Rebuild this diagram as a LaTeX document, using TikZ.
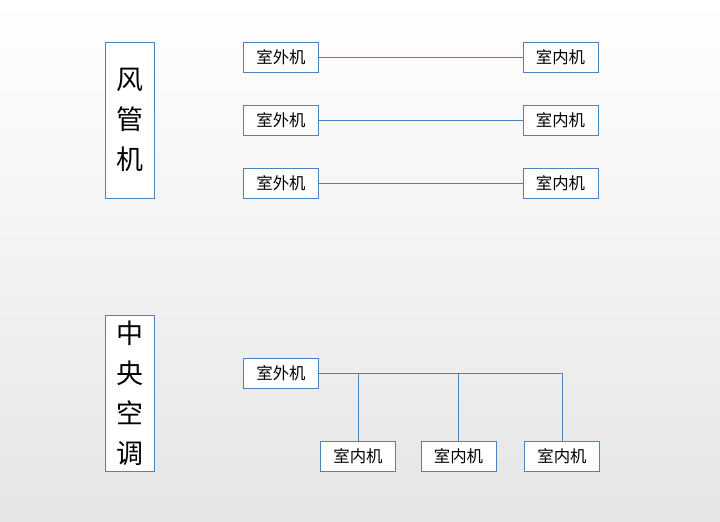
\documentclass[tikz,border=0pt]{standalone}
\usepackage{fontspec}
\newfontfamily\cjk{Noto Sans CJK SC}
\definecolor{boxblue}{RGB}{79,129,189}
\begin{document}
\begin{tikzpicture}[x=0.03cm,y=-0.03cm,semithick]
	  \tikzstyle{unit}=[draw=boxblue,fill=white,rectangle,minimum width=2.25cm,minimum height=0.9cm,inner sep=0pt,font=\cjk\fontsize{14}{16}\selectfont]
	  \tikzstyle{kind}=[draw=boxblue,fill=white,rectangle,minimum width=1.47cm,minimum height=4.68cm,inner sep=0pt,align=center,font=\cjk\fontsize{23}{34}\selectfont]
	  \tikzstyle{pipe}=[draw=boxblue]

	  \shade[top color=white,bottom color=black!10] (0,0) rectangle (720,521);

	  \node[kind] (FG) at (129.5,120) {风\\管\\机};
	  \node[kind] (ZY) at (129.5,393) {中\\央\\空\\调};

	  \foreach \i/\y in {1/57,2/120,3/183} {
	    \node[unit] (O\i) at (281,\y) {室外机};
	    \node[unit] (I\i) at (560.5,\y) {室内机};
	    \draw[pipe] (O\i) -- (I\i);
	  }

	  \node[unit] (O) at (281,373) {室外机};
	  \node[unit] (A) at (358,456) {室内机};
	  \node[unit] (B) at (458.5,456) {室内机};
	  \node[unit] (C) at (562,456) {室内机};
	  \coordinate (J) at (562,373);

	  \draw[pipe] (O) -- (J) -- (C);
	  \draw[pipe] (A) -- (A |- O);
	  \draw[pipe] (B) -- (B |- O);
	\end{tikzpicture}
\end{document}
